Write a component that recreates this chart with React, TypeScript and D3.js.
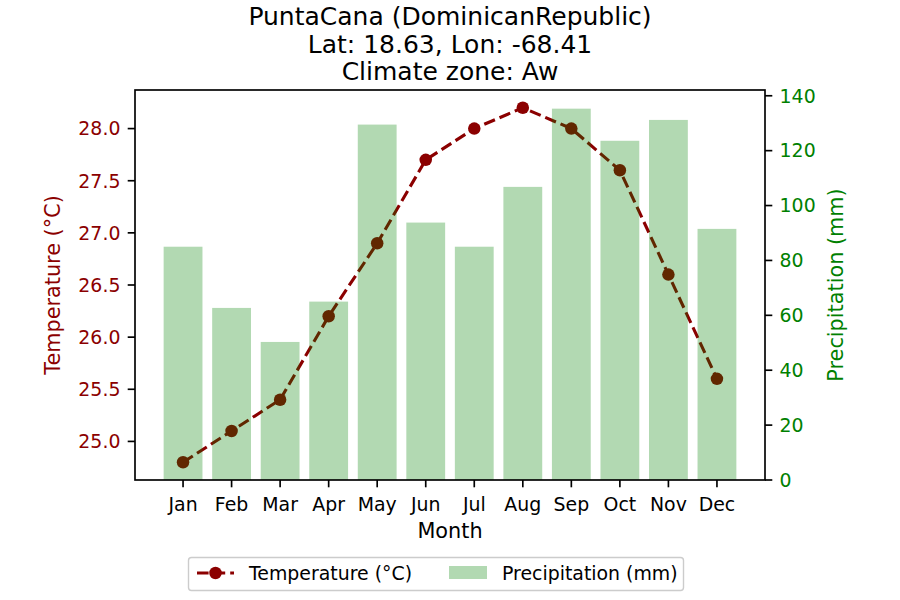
import * as d3 from "d3"

const months = ["Jan", "Feb", "Mar", "Apr", "May", "Jun", "Jul", "Aug", "Sep", "Oct", "Nov", "Dec"]
const temperature = [24.8, 25.1, 25.4, 26.2, 26.9, 27.7, 28.0, 28.2, 28.0, 27.6, 26.6, 25.6]
const precipitation = [85, 62.7, 50.3, 65, 129.5, 93.8, 85, 106.8, 135.3, 123.6, 131.2, 91.5]
const tempTicks = [25.0, 25.5, 26.0, 26.5, 27.0, 27.5, 28.0]
const precTicks = [0, 20, 40, 60, 80, 100, 120, 140]
const titleLines = ["PuntaCana (DominicanRepublic)", "Lat: 18.63, Lon: -68.41", "Climate zone: Aw"]

const width = 900
const height = 600
const margin = { top: 90, right: 135, bottom: 120, left: 135 }
const innerW = width - margin.left - margin.right
const innerH = height - margin.top - margin.bottom

const font = "'DejaVu Sans', sans-serif"
const red = "#8b0000"
const green = "green"
const fs = 18.9 // 刻度和图例
const labelFs = 20.8 // 轴标题
const tickLen = 7.3
const lw = 3.1
const dash = "11.6,5"

export default function App() {
  const x = d3.scaleLinear().domain([-0.99, 11.99]).range([0, innerW])
  const yT = d3.scaleLinear().domain([24.63, 28.37]).range([innerH, 0])
  const yP = d3.scaleLinear().domain([0, 142.1]).range([innerH, 0])
  const barW = x(0.8) - x(0)

  const line = d3
    .line<number>()
    .x((_, i) => x(i))
    .y((d) => yT(d))

  return (
    <svg
      width={width}
      height={height}
      style={{ position: "absolute", left: 0, top: 0, background: "white" }}
      fontFamily={font}
    >
      {/* 标题 */}
      {titleLines.map((t, i) => (
        <text key={t} x={450} y={25 + i * 27.5} textAnchor="middle" fontSize={25} fill="black">
          {t}
        </text>
      ))}

      <g transform={`translate(${margin.left},${margin.top})`}>
        {/* 温度线 */}
        <path d={line(temperature) ?? ""} fill="none" stroke={red} strokeWidth={lw} strokeDasharray={dash} />
        {temperature.map((d, i) => (
          <circle key={i} cx={x(i)} cy={yT(d)} r={6.25} fill={red} />
        ))}

        {/* 降水柱 */}
        {precipitation.map((d, i) => (
          <rect
            key={i}
            x={x(i) - barW / 2}
            y={yP(d)}
            width={barW}
            height={innerH - yP(d)}
            fill={green}
            fillOpacity={0.3}
          />
        ))}

        {/* 边框 */}
        <rect x={0} y={0} width={innerW} height={innerH} fill="none" stroke="black" strokeWidth={1.67} />

        {/* 左轴 */}
        {tempTicks.map((t) => (
          <g key={t} transform={`translate(0,${yT(t)})`}>
            <line x1={-tickLen} x2={0} stroke="black" strokeWidth={1.67} />
            <text x={-14.6} dy="0.36em" textAnchor="end" fontSize={fs} fill={red}>
              {t.toFixed(1)}
            </text>
          </g>
        ))}
        <text
          transform={`translate(${60 - margin.left},${innerH / 2}) rotate(-90)`}
          textAnchor="middle"
          fontSize={labelFs}
          fill={red}
        >
          Temperature (°C)
        </text>

        {/* 右轴 */}
        {precTicks.map((t) => (
          <g key={t} transform={`translate(${innerW},${yP(t)})`}>
            <line x1={0} x2={tickLen} stroke="black" strokeWidth={1.67} />
            <text x={14.6} dy="0.36em" textAnchor="start" fontSize={fs} fill={green}>
              {t}
            </text>
          </g>
        ))}
        <text
          transform={`translate(${843 - margin.left},${innerH / 2}) rotate(-90)`}
          textAnchor="middle"
          fontSize={labelFs}
          fill={green}
        >
          Precipitation (mm)
        </text>

        {/* X轴 */}
        {months.map((m, i) => (
          <g key={m} transform={`translate(${x(i)},${innerH})`}>
            <line y1={0} y2={tickLen} stroke="black" strokeWidth={1.67} />
            <text y={31} textAnchor="middle" fontSize={fs} fill="black">
              {m}
            </text>
          </g>
        ))}
        <text x={innerW / 2} y={innerH + 58} textAnchor="middle" fontSize={labelFs} fill="black">
          Month
        </text>
      </g>

      {/* 图例 */}
      <g>
        <rect x={188.5} y={557.5} width={495} height={33} rx={3} fill="white" stroke="#cccccc" strokeWidth={1.4} />
        <line x1={197} x2={234} y1={573} y2={573} stroke={red} strokeWidth={lw} strokeDasharray={dash} />
        <circle cx={215.5} cy={573} r={6.25} fill={red} />
        <text x={249} y={579.5} fontSize={fs} fill="black">
          Temperature (°C)
        </text>
        <rect x={449} y={566} width={38} height={13} fill={green} fillOpacity={0.3} />
        <text x={502} y={579.5} fontSize={fs} fill="black">
          Precipitation (mm)
        </text>
      </g>
    </svg>
  )
}
